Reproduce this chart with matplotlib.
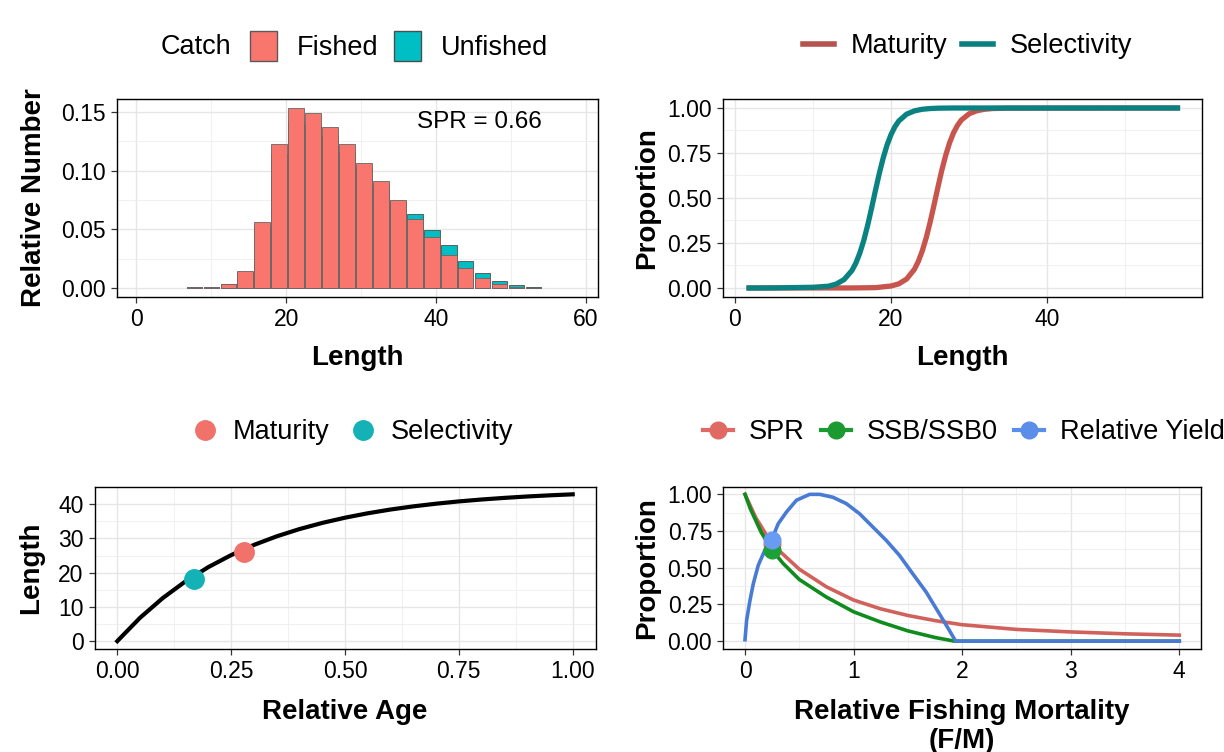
import matplotlib
matplotlib.use("Agg")
import matplotlib.pyplot as plt
from matplotlib.patches import Patch
from matplotlib.lines import Line2D
from matplotlib.ticker import MultipleLocator

plt.rcParams['font.family'] = ['Liberation Sans', 'DejaVu Sans']

# DATA
# length composition of the catch (bin mids, relative numbers)
bin_mids = [7.70, 9.97, 12.24, 14.50, 16.77, 19.03, 21.30, 23.57, 25.83, 28.10, 30.37,
            32.63, 34.90, 37.16, 39.43, 41.70, 43.96, 46.23, 48.50, 50.76, 53.03]
fished = [0.0012, 0.0012, 0.0037, 0.0150, 0.0560, 0.1224, 0.1529, 0.1486, 0.1370, 0.1224, 0.1067,
          0.0908, 0.0749, 0.0592, 0.0433, 0.0287, 0.0171, 0.0085, 0.0037, 0.0010, 0.0006]
unfished = [0.0010, 0.0010, 0.0033, 0.0140, 0.0520, 0.1140, 0.1420, 0.1390, 0.1290, 0.1160, 0.1020,
            0.0880, 0.0740, 0.0632, 0.0498, 0.0367, 0.0236, 0.0128, 0.0063, 0.0028, 0.0014]
spr_label = "SPR = 0.66"

# maturity / selectivity at length
mat_len = [1.5, 15, 18, 20, 21, 22, 23, 23.5, 24, 24.5, 25, 25.5, 26, 26.5, 27, 27.5, 28, 28.5,
           29, 30, 31, 32, 33, 35, 57]
mat_val = [0, 0.0003, 0.002, 0.011, 0.023, 0.05, 0.104, 0.148, 0.206, 0.278, 0.364, 0.46, 0.559,
           0.654, 0.737, 0.807, 0.862, 0.903, 0.933, 0.968, 0.985, 0.993, 0.997, 0.999, 1.0]
sel_len = [1.5, 5, 10, 12, 13, 14, 15, 15.5, 16, 16.5, 17, 17.5, 18, 18.5, 19, 19.5, 20, 20.5,
           21, 22, 23, 24, 25, 26, 28, 57]
sel_val = [0, 0.0005, 0.004, 0.010, 0.022, 0.047, 0.097, 0.138, 0.193, 0.262, 0.346, 0.441, 0.54,
           0.636, 0.722, 0.795, 0.852, 0.896, 0.928, 0.966, 0.984, 0.993, 0.997, 0.999, 1.0, 1.0]

# growth curve
rel_age = [0, 0.05, 0.1, 0.15, 0.2, 0.25, 0.3, 0.35, 0.4, 0.45, 0.5, 0.55, 0.6, 0.65, 0.7,
           0.75, 0.8, 0.85, 0.9, 0.95, 1.0]
len_at_age = [0, 6.83, 12.60, 17.50, 21.64, 25.15, 28.12, 30.63, 32.75, 34.55, 36.08, 37.37,
              38.47, 39.39, 40.17, 40.84, 41.40, 41.87, 42.28, 42.62, 42.91]
mat_point = (0.279, 26.1)
sel_point = (0.169, 18.1)

# per-recruit curves against F/M
spr_fm = [0, 0.1, 0.25, 0.5, 0.75, 1.0, 1.25, 1.5, 1.75, 2.0, 2.5, 3.0, 3.5, 4.0]
spr_val = [1.0, 0.84, 0.66, 0.49, 0.37, 0.28, 0.22, 0.175, 0.14, 0.112, 0.08, 0.063, 0.05, 0.041]
ssb_fm = [0, 0.05, 0.1, 0.15, 0.25, 0.35, 0.5, 0.75, 1.0, 1.25, 1.5, 1.75, 1.93, 4.0]
ssb_val = [1.0, 0.9, 0.82, 0.74, 0.62, 0.53, 0.42, 0.30, 0.20, 0.13, 0.07, 0.025, 0.0, 0.0]
yld_fm = [0, 0.015, 0.046, 0.076, 0.122, 0.183, 0.245, 0.306, 0.382, 0.474, 0.596, 0.688, 0.81,
          0.933, 1.055, 1.177, 1.30, 1.422, 1.544, 1.667, 1.789, 1.881, 1.94, 4.0]
yld_val = [0.01, 0.143, 0.279, 0.39, 0.517, 0.62, 0.69, 0.80, 0.88, 0.96, 1.0, 1.0, 0.98, 0.937,
           0.868, 0.778, 0.687, 0.585, 0.46, 0.336, 0.188, 0.075, 0.0, 0.0]
cur_fm = 0.245
cur_spr, cur_ssb, cur_yld = 0.66, 0.62, 0.69

# STYLE
W, H = 1224, 752
TICK = 16.5
TITLE = 20
LEG = 19.5


def px_axes(left, right, top, bottom):
    return fig.add_axes([left / W, 1 - bottom / H, (right - left) / W, (bottom - top) / H])


def style(ax, xmaj, xmin, ymaj, ymin):
    ax.xaxis.set_major_locator(MultipleLocator(xmaj))
    ax.xaxis.set_minor_locator(MultipleLocator(xmin))
    ax.yaxis.set_major_locator(MultipleLocator(ymaj))
    ax.yaxis.set_minor_locator(MultipleLocator(ymin))
    ax.grid(which='major', color='#e6e6e6', lw=1.0, zorder=0)
    ax.grid(which='minor', color='#eeeeee', lw=0.6, zorder=0)
    ax.set_axisbelow(True)
    ax.tick_params(which='major', length=4, width=0.9, color='#333333', labelsize=TICK,
                   labelcolor='black', pad=4)
    ax.tick_params(which='minor', length=0)
    for s in ax.spines.values():
        s.set_color('black')
        s.set_linewidth(1.0)


fig = plt.figure(figsize=(W / 100, H / 100), dpi=100)

# top left: catch length composition
ax1 = px_axes(117, 598, 99, 297)
ax1.bar(bin_mids, unfished, width=2.04, color='#00BFC4', edgecolor='#4d4d4d', lw=0.6, zorder=2)
ax1.bar(bin_mids, fished, width=2.04, color='#F8766D', edgecolor='#666666', lw=0.6, zorder=3)
ax1.set_xlim(-2.6, 61.6)
ax1.set_ylim(-0.0074, 0.1608)
style(ax1, 20, 10, 0.05, 0.025)
ax1.yaxis.set_major_formatter(lambda v, p: f"{v:.2f}")
ax1.text(45.8, 0.141, spr_label, fontsize=17.5, ha='center', va='center', zorder=4)
ax1.set_xlabel('Length', fontsize=TITLE, fontweight='bold', labelpad=10)
ax1.set_ylabel('Relative Number', fontsize=TITLE, fontweight='bold', labelpad=10)

# top right: maturity and selectivity
ax2 = px_axes(723, 1202, 99, 297)
ax2.plot(mat_len, mat_val, color='#C8554D', lw=3.8, solid_capstyle='butt', zorder=3)
ax2.plot(sel_len, sel_val, color='#0B8282', lw=3.8, solid_capstyle='butt', zorder=4)
ax2.set_xlim(-1.5, 59.8)
ax2.set_ylim(-0.05, 1.05)
style(ax2, 20, 10, 0.25, 0.125)
ax2.yaxis.set_major_formatter(lambda v, p: f"{v:.2f}")
ax2.set_xlabel('Length', fontsize=TITLE, fontweight='bold', labelpad=10)
ax2.set_ylabel('Proportion', fontsize=TITLE, fontweight='bold', labelpad=5)

# bottom left: growth curve
ax3 = px_axes(94.5, 595.5, 487, 648.5)
ax3.plot(rel_age, len_at_age, color='black', lw=3.0, zorder=3)
ax3.plot(*sel_point, 'o', color='#14B2B6', ms=14, mec='#14B2B6', zorder=4)
ax3.plot(*mat_point, 'o', color='#F0726A', ms=14, mec='#F0726A', zorder=4)
ax3.set_xlim(-0.05, 1.05)
ax3.set_ylim(-2.15, 45.05)
style(ax3, 0.25, 0.125, 10, 5)
ax3.xaxis.set_major_formatter(lambda v, p: f"{v:.2f}")
ax3.set_xlabel('Relative Age', fontsize=TITLE, fontweight='bold', labelpad=12)
ax3.set_ylabel('Length', fontsize=TITLE, fontweight='bold', labelpad=10)

# bottom right: SPR, SSB/SSB0, yield vs F/M
ax4 = px_axes(723.3, 1201, 487, 648.5)
ax4.plot(spr_fm, spr_val, color='#D0625B', lw=2.6, zorder=3)
ax4.plot(ssb_fm, ssb_val, color='#108C1E', lw=2.6, zorder=4)
ax4.plot(yld_fm, yld_val, color='#4A7BD4', lw=2.6, zorder=5)
ax4.plot(cur_fm, cur_spr, 'o', color='#E8706A', ms=12, zorder=6)
ax4.plot(cur_fm, cur_ssb, 'o', color='#1DA038', ms=12, zorder=7)
ax4.plot(cur_fm, cur_yld, 'o', color='#6A9BF2', ms=12, zorder=8)
ax4.set_xlim(-0.2, 4.2)
ax4.set_ylim(-0.05, 1.05)
style(ax4, 1, 0.5, 0.25, 0.125)
ax4.yaxis.set_major_formatter(lambda v, p: f"{v:.2f}")
ax4.set_xlabel('Relative Fishing Mortality\n(F/M)', fontsize=TITLE, fontweight='bold',
               labelpad=12, linespacing=1.15, va='top')
ax4.set_ylabel('Proportion', fontsize=TITLE, fontweight='bold', labelpad=5)

# LEGENDS
leg_kw = dict(frameon=False, borderpad=0, borderaxespad=0, fontsize=LEG, loc='center left')

fig.text(161 / W, 1 - 47.5 / H, 'Catch', fontsize=LEG, va='center', ha='left')
fig.legend(handles=[Patch(facecolor='#F8766D', edgecolor='#5a5a5a', label='Fished'),
                    Patch(facecolor='#00BFC4', edgecolor='#4d4d4d', label='Unfished')],
           ncol=2, bbox_to_anchor=(250 / W, 1 - 46 / H), handlelength=1.0, handleheight=1.35,
           handletextpad=0.74, columnspacing=0.55, **leg_kw)

fig.legend(handles=[Line2D([], [], color='#B5534F', lw=4, label='Maturity'),
                    Line2D([], [], color='#0B7F7F', lw=4, label='Selectivity')],
           ncol=2, bbox_to_anchor=(803 / W, 1 - 46 / H), handlelength=1.15,
           handletextpad=0.6, columnspacing=0.55, **leg_kw)

fig.legend(handles=[Line2D([], [], ls='none', marker='o', ms=14, color='#F0726A', label='Maturity'),
                    Line2D([], [], ls='none', marker='o', ms=14, color='#14B2B6', label='Selectivity')],
           ncol=2, bbox_to_anchor=(191 / W, 1 - 432 / H), handlelength=1.0,
           handletextpad=0.54, columnspacing=0.72, **leg_kw)

# the reference is cropped at the right, so the last legend label runs off the edge
fig.legend(handles=[Line2D([], [], color='#E06A63', lw=3, marker='o', ms=12, label='SPR'),
                    Line2D([], [], color='#1A9A30', lw=3, marker='o', ms=12, label='SSB/SSB0'),
                    Line2D([], [], color='#5A8EE8', lw=3, marker='o', ms=12, label='Relative Yield')],
           ncol=3, bbox_to_anchor=(703 / W, 1 - 432 / H), handlelength=1.1,
           handletextpad=0.6, columnspacing=0.6, **leg_kw)

fig.savefig('out.png', dpi=100, facecolor='white')
